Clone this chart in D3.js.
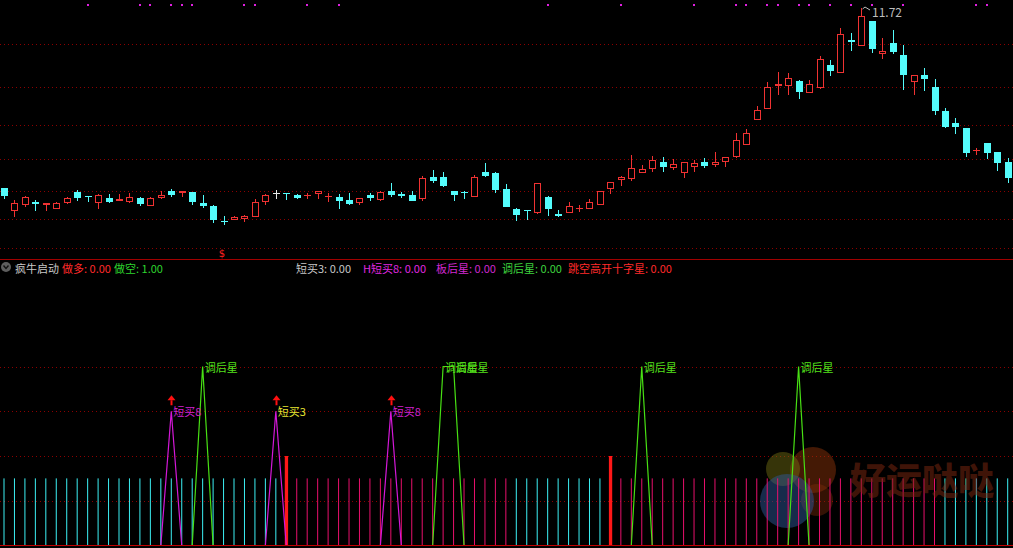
<!DOCTYPE html>
<html><head><meta charset="utf-8">
<script src="https://cdn.jsdelivr.net/npm/d3@7/dist/d3.min.js"></script>
<style>html,body{margin:0;padding:0;background:#000;overflow:hidden}svg{display:block}</style>
</head><body><svg id="c" width="1013" height="548"></svg>
<script>
// ---------------- DATA ----------------
const opens  = [7.21,6.65,6.79,6.86,6.80,6.70,6.85,7.12,7.02,6.85,6.98,6.90,6.88,6.98,6.78,6.97,7.14,7.10,7.11,6.85,
                6.77,6.40,6.43,6.44,6.49,6.86,7.09,7.10,7.04,7.01,7.06,7.00,7.00,6.92,6.84,7.05,6.92,7.15,7.06,7.05,
                6.95,7.50,7.50,7.15,7.12,6.99,7.63,7.59,7.20,6.69,6.67,6.60,7.00,6.57,6.59,6.69,6.69,6.79,7.20,7.42,
                7.45,7.59,7.69,7.87,7.71,7.60,7.74,7.87,7.80,7.86,8.00,8.29,8.91,9.20,9.76,9.77,9.90,9.59,9.71,10.30,
                10.10,10.92,10.77,11.40,10.58,10.85,10.55,9.86,10.05,9.75,9.15,8.84,8.71,8.15,8.34,8.11,7.88];
const highs  = [7.21,6.92,7.03,6.92,6.85,6.88,7.00,7.17,7.03,7.06,7.07,7.07,7.09,7.00,7.00,7.15,7.19,7.15,7.11,7.05,
                6.80,6.52,6.52,6.55,6.95,7.07,7.17,7.10,7.07,7.10,7.15,7.10,7.07,7.09,6.98,7.09,7.15,7.35,7.12,7.15,
                7.52,7.67,7.61,7.15,7.15,7.55,7.84,7.61,7.31,6.71,6.67,7.35,7.02,6.67,6.88,6.80,6.95,7.15,7.36,7.53,
                8.04,7.80,8.02,7.99,7.94,7.86,7.92,7.96,8.12,7.99,8.59,8.69,9.27,9.86,10.13,10.10,9.92,9.92,10.52,10.42,
                11.21,11.09,11.72,11.40,10.98,11.17,10.80,10.04,10.21,9.94,9.21,8.97,8.71,8.23,8.34,8.11,7.96];
const lows   = [6.95,6.49,6.75,6.65,6.64,6.69,6.82,6.90,6.88,6.69,6.85,6.89,6.85,6.77,6.78,6.95,7.00,7.00,6.79,6.72,
                6.34,6.29,6.43,6.38,6.49,6.80,6.95,6.92,6.95,6.95,6.95,6.88,6.70,6.80,6.80,6.90,6.90,6.99,6.97,6.90,
                6.90,7.35,7.24,6.90,6.95,6.99,7.50,7.10,6.75,6.40,6.42,6.58,6.52,6.49,6.59,6.61,6.69,6.79,7.07,7.27,
                7.40,7.59,7.63,7.63,7.67,7.48,7.63,7.71,7.75,7.75,7.98,8.29,8.91,9.20,9.55,9.55,9.45,9.59,9.69,10.02,
                10.10,10.65,10.77,10.60,10.45,10.57,9.67,9.55,9.65,9.05,8.71,8.57,8.00,8.04,7.95,7.65,7.34];
const closes = [7.02,6.85,6.99,6.82,6.84,6.85,6.96,6.98,6.99,7.05,6.88,6.94,7.00,6.82,6.98,7.05,7.05,7.14,6.88,6.78,
                6.42,6.37,6.50,6.53,6.87,7.05,7.09,7.07,6.97,7.05,7.15,7.02,6.90,6.83,6.98,6.98,7.11,7.04,7.03,6.90,
                7.48,7.40,7.28,7.04,7.09,7.49,7.53,7.17,6.75,6.55,6.64,7.34,6.69,6.52,6.76,6.72,6.86,7.15,7.36,7.49,
                7.72,7.69,7.92,7.75,7.81,7.86,7.84,7.78,7.86,7.99,8.42,8.60,9.16,9.75,9.81,9.96,9.61,9.81,10.45,10.14,
                11.06,10.88,11.52,10.69,10.65,10.63,10.05,10.04,9.94,9.15,8.75,8.74,8.09,8.17,8.09,7.84,7.48];
const topSignalIdx = [8,13,14,16,17,18,23,24,29,32,52,59,66,70,71,73,74,76,77,79,81,83,86,93,94];
const priceGrid = [10.81, 9.75, 8.79, 7.94, 7.15, 6.44, 5.71];
const peakIdx = 82, peakText = "11.72";
const dollarIdx = 21;

// indicator
const barRuns = [["c",27],["r",1],["m",21],["c",9],["r",1],["m",31],["c",7]];
const barValue = 1.5, thickBarValue = 2;
const buy8Idx = [16, 37], buy8Value = 3;
const buy3Idx = [26], buy3Value = 3;
const tiaoIdx = [19, 42, 43, 61, 76], tiaoValue = 4;
const indGrid = [1, 2, 3, 4];
const headerTexts  = ["疯牛启动","做多: 0.00","做空: 1.00","短买3: 0.00","H短买8: 0.00","板后星: 0.00","调后星: 0.00","跳空高开十字星: 0.00"];
const watermarkText = "好运哒哒";

// ---------------- LAYOUT / STYLE ----------------
const N = opens.length;
const svg = d3.select("#c");
svg.append("rect").attr("width",1013).attr("height",548).attr("fill","#000");
const x = d3.scaleLinear().domain([0, N-1]).range([4, 1007.7]);
const y = d3.scaleLinear().domain([5.37, 11.92]).range([262, 0]);
const iy = d3.scaleLinear().domain([0, 4]).range([545.5, 366.5]);
const RED = "#f03232", CYAN = "#54fcfc", GRID = "#8c0000";
const FONT = "'Noto Sans CJK SC','Noto Sans',sans-serif";

// top panel grid
svg.append("g").selectAll("line").data(priceGrid).join("line")
  .attr("x1",0).attr("x2",1013)
  .attr("y1",d=>Math.round(y(d))+0.5).attr("y2",d=>Math.round(y(d))+0.5)
  .attr("stroke",GRID).attr("stroke-dasharray","1,3");

// candles
const cg = svg.append("g");
d3.range(N).forEach(i=>{
  const o=opens[i], c=closes[i], h=highs[i], l=lows[i];
  const px = Math.round(x(i));
  const up = c>o, eq = c===o;
  const col = eq ? "#e6e6e6" : (up ? RED : CYAN);
  const yt = Math.round(y(Math.max(o,c))), yb = Math.round(y(Math.min(o,c)));
  const yh = Math.round(y(h)), yl = Math.round(y(l));
  if (up) {
    if (yt > yh) cg.append("line").attr("x1",px+0.5).attr("x2",px+0.5).attr("y1",yh).attr("y2",yt).attr("stroke",col);
    if (yl > yb) cg.append("line").attr("x1",px+0.5).attr("x2",px+0.5).attr("y1",yb).attr("y2",yl).attr("stroke",col);
    if (yb - yt >= 2) {
      cg.append("rect").attr("x",px-2.5).attr("y",yt+0.5).attr("width",6).attr("height",yb-yt-1)
        .attr("fill","#000").attr("stroke",col);
    } else {
      cg.append("rect").attr("x",px-3).attr("y",yt).attr("width",7).attr("height",Math.max(1,yb-yt)).attr("fill",col);
    }
  } else {
    cg.append("line").attr("x1",px+0.5).attr("x2",px+0.5).attr("y1",yh).attr("y2",Math.max(yl,yh+1)).attr("stroke",col);
    cg.append("rect").attr("x",px-3).attr("y",yt).attr("width",7).attr("height",Math.max(1,yb-yt)).attr("fill",col);
  }
});

// top signal dots
svg.append("g").selectAll("rect").data(topSignalIdx).join("rect")
  .attr("x",d=>Math.round(x(d))-1).attr("y",4).attr("width",2).attr("height",2).attr("fill","#e020e0");

// peak label
const pkx = Math.round(x(peakIdx)), pky = Math.round(y(highs[peakIdx]));
svg.append("path").attr("d",`M${pkx+1.5},${pky+1} L${pkx+4},${pky-1} L${pkx+9},${pky+2}`)
  .attr("fill","none").attr("stroke","#bcbcbc");
svg.append("text").attr("x",pkx+11).attr("y",pky+3).attr("dominant-baseline","central")
  .attr("font-family",FONT).attr("font-size",12).attr("fill","#bcbcbc").text(peakText);

// dollar marker
svg.append("text").attr("x",x(dollarIdx)-1.5).attr("y",253).attr("text-anchor","middle").attr("dominant-baseline","central")
  .attr("font-family","'DejaVu Sans',sans-serif").attr("font-size",10).attr("fill","#ff2020").text("$");

// panel divider
svg.append("line").attr("x1",0).attr("x2",1013).attr("y1",259.5).attr("y2",259.5).attr("stroke","#a00000");

// header
const headerX = [15,62,114,296,363,436,502,568];
const headerColors = ["#c8c8c8","#ff2a2a","#2ed42e","#c8c8c8","#e028e0","#d028d0","#3ed43e","#ff2a2a"];
svg.append("circle").attr("cx",6).attr("cy",267).attr("r",5).attr("fill","#5e5e5e");
svg.append("path").attr("d","M3.5,265.5 L6,268.5 L8.5,265.5").attr("fill","none").attr("stroke","#111").attr("stroke-width",1.4);
svg.append("g").selectAll("text").data(headerTexts).join("text")
  .attr("x",(d,i)=>headerX[i]).attr("y",267.5).attr("dominant-baseline","central")
  .attr("font-family",FONT).attr("font-size",11).attr("fill",(d,i)=>headerColors[i]).text(d=>d);

// indicator grid
svg.append("g").selectAll("line").data(indGrid).join("line")
  .attr("x1",0).attr("x2",1013)
  .attr("y1",d=>Math.round(iy(d))+0.5).attr("y2",d=>Math.round(iy(d))+0.5)
  .attr("stroke",GRID).attr("stroke-dasharray","1,3");

// watermark circles (behind bars)
const wm = svg.append("g");
[[813,470,23,"rgba(150,55,10,0.45)"],[817,500,16,"rgba(130,45,10,0.4)"],[783,469,17,"rgba(120,115,20,0.45)"],[787,501,27,"rgba(45,85,150,0.5)"]]
  .forEach(([cx,cy,r,f])=>wm.append("circle").attr("cx",cx).attr("cy",cy).attr("r",r).attr("fill",f));

// bars
const barState = barRuns.flatMap(([s,n])=>Array(n).fill(s));
const bg = svg.append("g");
barState.forEach((s,i)=>{
  if (s==="r") {
    bg.append("rect").attr("x",x(i)-1.5).attr("y",iy(thickBarValue)).attr("width",3.3)
      .attr("height",iy(0)-iy(thickBarValue)).attr("fill","#ff1818");
  } else {
    bg.append("line").attr("x1",x(i)).attr("x2",x(i)).attr("y1",iy(barValue)).attr("y2",iy(0))
      .attr("stroke", s==="c" ? "#3cf0f4" : "#e8106c").attr("stroke-width",1);
  }
});

// spike series
function series(idx, v){ return d3.range(N).map(i=>idx.includes(i)?v:0); }
const line = d3.line().x((d,i)=>x(i)).y(d=>iy(d));
[[series(buy8Idx,buy8Value),"#d418d8"],[series(buy3Idx,buy3Value),"#d418d8"],[series(tiaoIdx,tiaoValue),"#48e014"]]
  .forEach(([s,c])=>svg.append("path").attr("d",line(s)).attr("fill","none").attr("stroke",c).attr("stroke-width",1.2));

// arrows above buy signals
const arrowIdx = buy8Idx.concat(buy3Idx);
const ag = svg.append("g");
arrowIdx.forEach(i=>{
  const cx = Math.round(x(i))+0.5, top = iy(buy8Value)-16;
  ag.append("path").attr("d",`M${cx},${top} L${cx+4},${top+5} L${cx-4},${top+5} Z`).attr("fill","#ff1010");
  ag.append("rect").attr("x",cx-1).attr("y",top+5).attr("width",2).attr("height",5).attr("fill","#ff1010");
});

// labels
const lg = svg.append("g").attr("font-family",FONT).attr("font-size",11).attr("dominant-baseline","central");
buy8Idx.forEach(i=>lg.append("text").attr("x",x(i)+2).attr("y",iy(buy8Value)).attr("fill","#d020d0").text("短买8"));
buy3Idx.forEach(i=>lg.append("text").attr("x",x(i)+2).attr("y",iy(buy3Value)).attr("fill","#e6e632").text("短买3"));
tiaoIdx.forEach(i=>lg.append("text").attr("x",x(i)+2).attr("y",iy(tiaoValue)).attr("fill","#54e01c").text("调后星"));

// bottom border
svg.append("line").attr("x1",0).attr("x2",1013).attr("y1",545.5).attr("y2",545.5).attr("stroke","#c00000");

// watermark text
svg.append("text").attr("x",850).attr("y",478).attr("dominant-baseline","central")
  .attr("font-family","'Noto Sans CJK SC',sans-serif").attr("font-weight",900).attr("font-size",36)
  .attr("fill","rgba(120,38,16,0.55)").text(watermarkText);
</script></body></html>
